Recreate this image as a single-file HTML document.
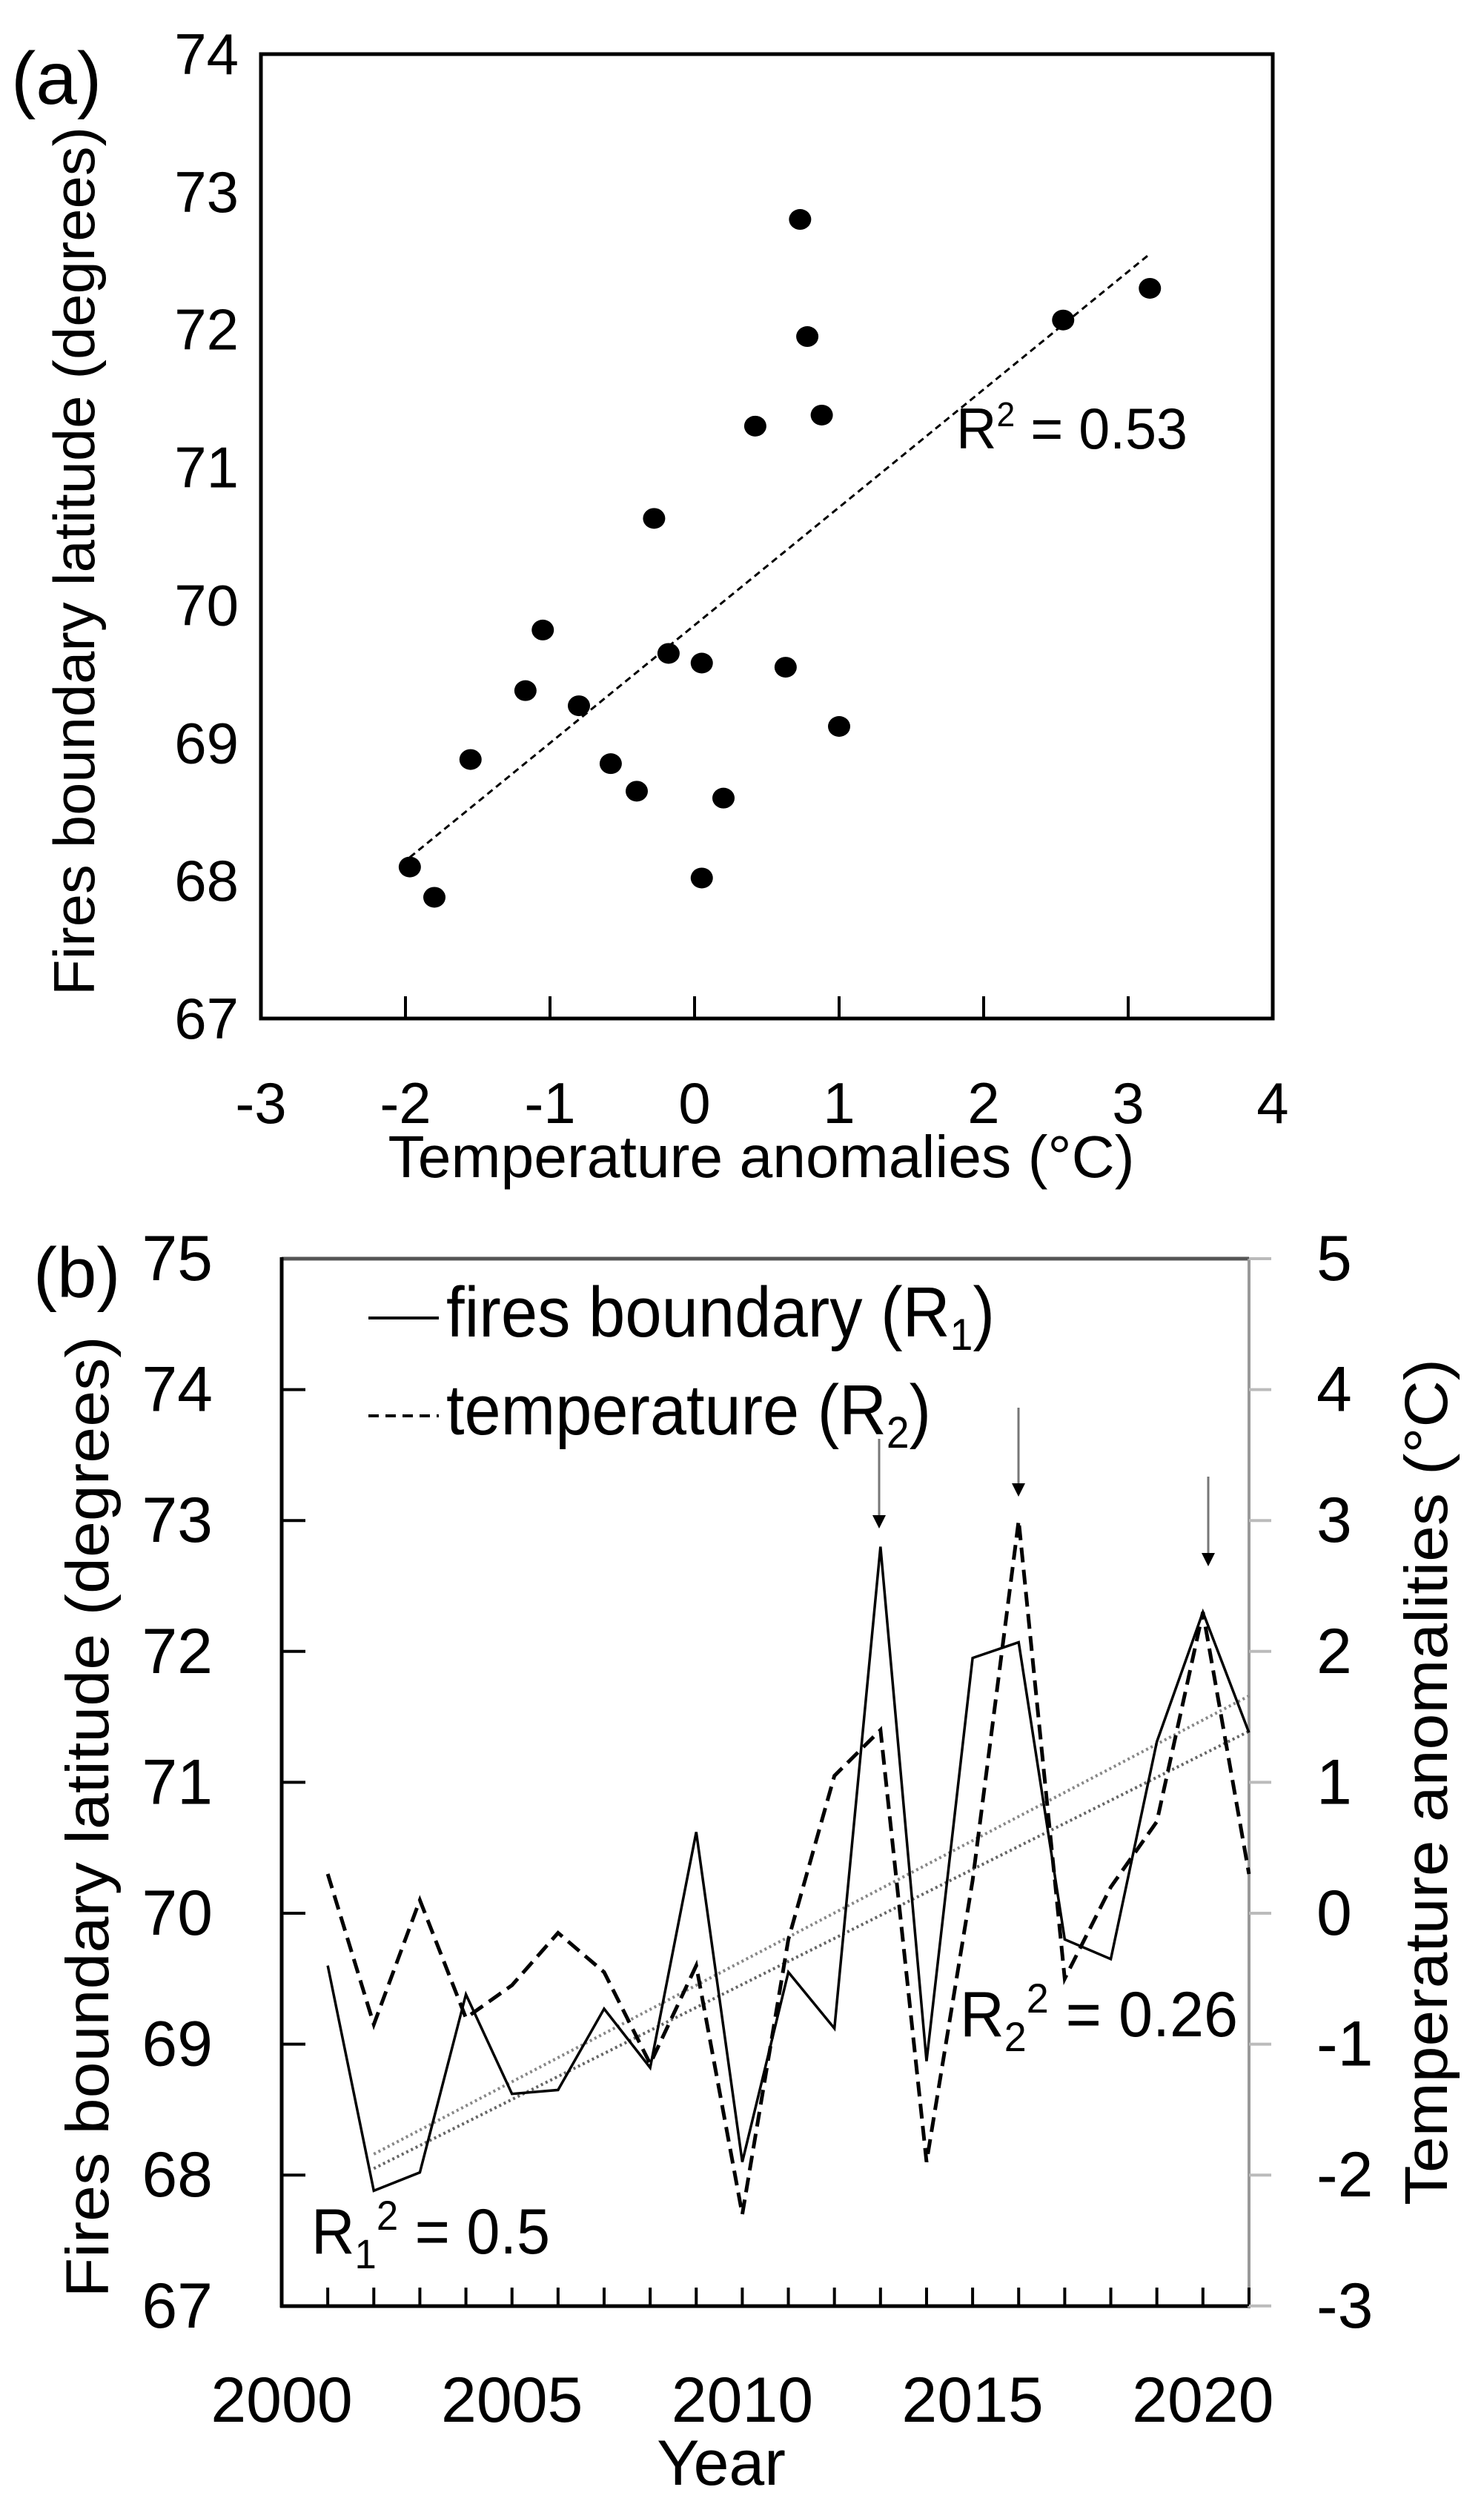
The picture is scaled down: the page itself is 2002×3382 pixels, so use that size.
<!DOCTYPE html>
<html><head><meta charset="utf-8">
<style>
html,body{margin:0;padding:0;background:#fff;}
svg{display:block;}
text{font-family:"Liberation Sans",sans-serif;fill:#000;}
</style></head>
<body>
<svg id="s" width="2002" height="3382" viewBox="0 0 2002 3382" xmlns="http://www.w3.org/2000/svg">
<rect width="2002" height="3382" fill="#fff"/>
<!-- Panel a -->
<text x="15" y="140" font-size="100">(a)</text>
<rect x="352" y="73" width="1365" height="1301" fill="none" stroke="#000" stroke-width="5"/>
<g id="aticks"></g>
<g id="alabels" font-size="78"></g>
<text transform="translate(127,757) rotate(-90)" text-anchor="middle" font-size="78" textLength="1172" lengthAdjust="spacingAndGlyphs">Fires boundary latitude (degrees)</text>
<text x="1027" y="1588" text-anchor="middle" font-size="80" textLength="1007" lengthAdjust="spacingAndGlyphs">Temperature anomalies (°C)</text>
<line id="trendA" stroke="#000" stroke-width="3" stroke-dasharray="9,6"/>
<g id="dots"></g>
<text x="1290" y="605" font-size="78" textLength="312" lengthAdjust="spacingAndGlyphs">R<tspan font-size="46" dy="-30">2</tspan><tspan dy="30"> = 0.53</tspan></text>

<!-- Panel b -->
<text x="45" y="1750" font-size="96">(b)</text>
<line x1="380" y1="1698" x2="1685" y2="1698" stroke="#555" stroke-width="5"/>
<line x1="380" y1="1696" x2="380" y2="3113" stroke="#000" stroke-width="5"/>
<line x1="378" y1="3111" x2="1687" y2="3111" stroke="#000" stroke-width="5"/>
<line x1="1685" y1="1698" x2="1685" y2="3113" stroke="#999" stroke-width="4"/>
<g id="bticks"></g>
<g id="blabels" font-size="86"></g>
<text transform="translate(146,2451) rotate(-90)" text-anchor="middle" font-size="82" textLength="1297" lengthAdjust="spacingAndGlyphs">Fires boundary latitude (degrees)</text>
<text transform="translate(1952,2404) rotate(-90)" text-anchor="middle" font-size="82" textLength="1142" lengthAdjust="spacingAndGlyphs">Temperature anomalities (°C)</text>
<text x="973" y="3352" text-anchor="middle" font-size="86">Year</text>
<line id="tr1" stroke="#888" stroke-width="4" stroke-dasharray="3,4"/>
<line id="tr2" stroke="#666" stroke-width="4" stroke-dasharray="3,4"/>
<polyline id="temp" fill="none" stroke="#000" stroke-width="5" stroke-dasharray="20,10"/>
<polyline id="fire" fill="none" stroke="#000" stroke-width="3.5"/>
<g id="arrows"></g>
<line x1="497" y1="1778" x2="592" y2="1778" stroke="#000" stroke-width="4"/>
<text x="602" y="1803" font-size="96" textLength="740" lengthAdjust="spacingAndGlyphs">fires boundary (R<tspan font-size="60" dy="18">1</tspan><tspan dy="-18">)</tspan></text>
<line x1="497" y1="1910" x2="592" y2="1910" stroke="#000" stroke-width="4" stroke-dasharray="14,9"/>
<text x="602" y="1935" font-size="96" textLength="654" lengthAdjust="spacingAndGlyphs">temperature (R<tspan font-size="60" dy="18">2</tspan><tspan dy="-18">)</tspan></text>
<text x="1295" y="2747" font-size="86" textLength="375" lengthAdjust="spacingAndGlyphs">R<tspan font-size="56" dy="20">2</tspan><tspan font-size="56" dy="-52">2</tspan><tspan dy="32"> = 0.26</tspan></text>
<text x="420" y="3040" font-size="86" textLength="322" lengthAdjust="spacingAndGlyphs">R<tspan font-size="56" dy="20">1</tspan><tspan font-size="56" dy="-52">2</tspan><tspan dy="32"> = 0.5</tspan></text>
</svg>
<script>
var NS="http://www.w3.org/2000/svg";
function el(p,t,a,txt){var e=document.createElementNS(NS,t);for(var k in a)e.setAttribute(k,a[k]);if(txt!==undefined)e.textContent=txt;document.getElementById(p).appendChild(e);return e;}
// panel a
function ax(t){return 352+(t+3)*195;} function ay(v){return 73+(74-v)*185.86;}
for(var i=-3;i<=4;i++){ if(i>-3&&i<4) el("aticks","line",{x1:ax(i),x2:ax(i),y1:1374,y2:1344,stroke:"#000","stroke-width":4});
 el("alabels","text",{x:ax(i),y:1515,"text-anchor":"middle"},String(i));}
for(var v=67;v<=74;v++) el("alabels","text",{x:322,y:ay(v)+27,"text-anchor":"end"},String(v));
var pts=[[-1.97,68.1],[-1.8,67.88],[-1.55,68.88],[-1.17,69.38],[-1.05,69.82],[-0.8,69.27],[-0.58,68.85],[-0.4,68.65],[-0.28,70.63],[-0.18,69.65],[0.05,69.58],[0.05,68.02],[0.2,68.6],[0.42,71.3],[0.63,69.55],[0.73,72.8],[0.78,71.95],[0.88,71.38],[1.0,69.12],[2.55,72.07],[3.15,72.3]];
pts.forEach(function(p){el("dots","ellipse",{cx:ax(p[0]),cy:ay(p[1]),rx:15,ry:14,fill:"#000"});});
var t=document.getElementById("trendA");t.setAttribute("x1",ax(-1.97));t.setAttribute("y1",ay(68.17));t.setAttribute("x2",ax(3.15));t.setAttribute("y2",ay(72.55));
// panel b
function bx(y){return 380+(y-2000)*62.14;} function by(v){return 1698+(75-v)*176.6;} function ty(t){return 1698+(5-t)*176.6;}
for(var y=2001;y<=2021;y++) el("bticks","line",{x1:bx(y),x2:bx(y),y1:3111,y2:3086,stroke:"#000","stroke-width":4});
for(var y=2000;y<=2020;y+=5) el("blabels","text",{x:bx(y),y:3267,"text-anchor":"middle"},String(y));
for(var v=67;v<=75;v++){ el("blabels","text",{x:287,y:by(v)+29,"text-anchor":"end"},String(v));
 if(v>67&&v<75) el("bticks","line",{x1:380,x2:412,y1:by(v),y2:by(v),stroke:"#000","stroke-width":4});}
for(var tt=-3;tt<=5;tt++){el("bticks","line",{x1:1685,x2:1715,y1:ty(tt),y2:ty(tt),stroke:"#bbb","stroke-width":4});
 el("blabels","text",{x:1776,y:ty(tt)+29,"text-anchor":"start"},String(tt));}
var fire=[69.6,67.88,68.02,69.38,68.62,68.65,69.27,68.82,70.62,68.1,69.55,69.12,72.8,68.87,71.95,72.07,69.8,69.65,71.31,72.3,71.38];
var temp=[0.3,-0.85,0.1,-0.8,-0.55,-0.15,-0.45,-1.15,-0.4,-2.3,-0.2,1.05,1.4,-1.9,0.25,3.0,-0.5,0.2,0.7,2.3,0.3];
document.getElementById("fire").setAttribute("points",fire.map(function(v,i){return bx(2001+i)+","+by(v);}).join(" "));
document.getElementById("temp").setAttribute("points",temp.map(function(v,i){return bx(2001+i)+","+ty(v);}).join(" "));
function setl(id,x1,y1,x2,y2){var e=document.getElementById(id);e.setAttribute("x1",x1);e.setAttribute("y1",y1);e.setAttribute("x2",x2);e.setAttribute("y2",y2);}
setl("tr1",bx(2002),by(68.16),bx(2021),by(71.66));
setl("tr2",bx(2002),by(68.05),bx(2021),by(71.39));
[[1186,1941,2062],[1374,1899,2019],[1630,1992,2113]].forEach(function(a){var x=a[0];
 el("arrows","line",{x1:x,x2:x,y1:a[1],y2:a[2]-14,stroke:"#777","stroke-width":3});
 el("arrows","polygon",{points:(x-9)+","+(a[2]-18)+" "+(x+9)+","+(a[2]-18)+" "+x+","+a[2],fill:"#000"});});
</script>
</body></html>
